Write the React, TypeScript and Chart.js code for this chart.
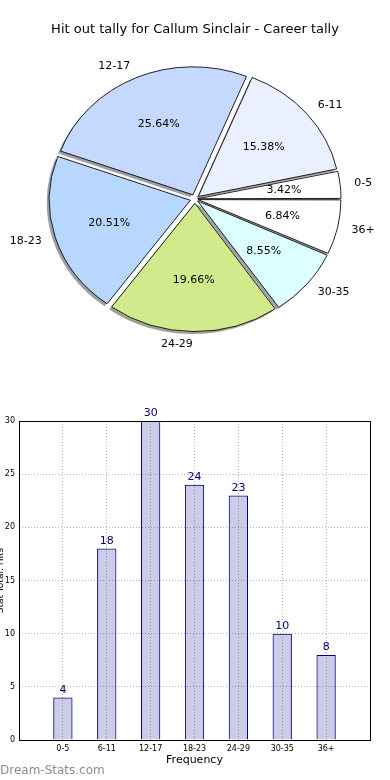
import React, { useEffect, useRef } from "react";
import { Chart, registerables } from "chart.js";

Chart.register(...registerables);

// ---- data ----
const TITLE = "Hit out tally for Callum Sinclair - Career tally";
const categories = ["0-5", "6-11", "12-17", "18-23", "24-29", "30-35", "36+"];
const hitOuts = [4, 18, 30, 24, 23, 10, 8];
const sliceColors = ["#ffffff", "#eaf0ff", "#c5d9ff", "#b8d7ff", "#d0ea8c", "#dcffff", "#ffffff"];
const yTicks = [0, 5, 10, 15, 20, 25, 30];
const X_TITLE = "Frequency";
const Y_TITLE = "Stat Total: Hits";
const WATERMARK = "Dream-Stats.com";

// ---- style constants ----
const FONT = "'DejaVu Sans', sans-serif";
const PIE_R = 141;
const SY = 0.908; // matplotlib non-equal axes -> ellipse
const EXPLODE = 5;
const NAVY = "#000080";

function hexToRgb(h: string) {
  const n = parseInt(h.slice(1), 16);
  return [(n >> 16) & 255, (n >> 8) & 255, n & 255];
}

function PieChart() {
  const ref = useRef<HTMLCanvasElement>(null);
  useEffect(() => {
    const total = hitOuts.reduce((a, b) => a + b, 0);
    // matplotlib draws counter-clockwise from 3 o'clock; Chart.js clockwise -> reverse
    const pieLabels = [...categories].reverse();
    const pieValues = [...hitOuts].reverse();
    const pieColors = [...sliceColors].reverse();

    const ellipsePlugin = {
      id: "ellipse",
      beforeDatasetsDraw(chart: any) {
        const ctx = chart.ctx;
        const arcs = chart.getDatasetMeta(0).data;
        if (!arcs.length) return;
        const cx = arcs[0].x, cy = arcs[0].y;
        ctx.save();
        ctx.translate(cx, cy);
        ctx.scale(1, SY);
        ctx.translate(-cx, -cy);
        // shadows (below all wedges)
        ctx.save();
        ctx.translate(-2.5, 2.5 / SY);
        arcs.forEach((arc: any, i: number) => {
          const mid = (arc.startAngle + arc.endAngle) / 2;
          const ox = arc.x + Math.cos(mid) * EXPLODE;
          const oy = arc.y + Math.sin(mid) * EXPLODE;
          const [r, g, b] = hexToRgb(pieColors[i]);
          ctx.beginPath();
          ctx.moveTo(ox, oy);
          ctx.arc(ox, oy, arc.outerRadius, arc.startAngle, arc.endAngle);
          ctx.closePath();
          ctx.fillStyle = `rgba(${Math.round(r * 0.3)},${Math.round(g * 0.3)},${Math.round(b * 0.3)},0.5)`;
          ctx.fill();
        });
        ctx.restore();
      },
      afterDatasetsDraw(chart: any) {
        chart.ctx.restore();
      },
      afterDraw(chart: any) {
        const ctx = chart.ctx;
        const arcs = chart.getDatasetMeta(0).data;
        ctx.save();
        ctx.fillStyle = "#000";
        ctx.font = `13px ${FONT}`;
        ctx.textAlign = "center";
        ctx.textBaseline = "middle";
        ctx.fillText(TITLE, 195, 30);
        ctx.font = `11px ${FONT}`;
        arcs.forEach((arc: any, i: number) => {
          const mid = (arc.startAngle + arc.endAngle) / 2;
          const c = Math.cos(mid), s = Math.sin(mid);
          const R = arc.outerRadius;
          const lr = 1.1 * R + EXPLODE;
          const lx = arc.x + lr * c;
          const ly = arc.y + lr * s * SY;
          ctx.textAlign = c >= 0 ? "left" : "right";
          ctx.fillText(pieLabels[i], lx, ly);
          const pr = 0.6 * R + EXPLODE;
          const px = arc.x + pr * c;
          const py = arc.y + pr * s * SY;
          ctx.textAlign = "center";
          ctx.fillText(((pieValues[i] / total) * 100).toFixed(2) + "%", px, py);
        });
        ctx.restore();
      },
    };

    const chart = new Chart(ref.current!, {
      type: "pie",
      data: {
        labels: pieLabels,
        datasets: [
          {
            data: pieValues,
            backgroundColor: pieColors,
            borderColor: "#000",
            borderWidth: 0.9,
            radius: PIE_R,
            clip: false,
            offset: (ctx: any) => {
              const circ = (ctx.raw / total) * Math.PI * 2;
              const fix = 1 - Math.sin(Math.min(Math.PI, circ));
              return (EXPLODE * 4) / (1 + fix);
            },
          } as any,
        ],
      },
      options: {
        animation: false,
        responsive: false,
        rotation: 90,
        layout: { padding: { bottom: 2 } },
        plugins: { legend: { display: false }, tooltip: { enabled: false }, title: { display: false } },
      },
      plugins: [ellipsePlugin],
    });
    return () => chart.destroy();
  }, []);
  return <canvas ref={ref} width={390} height={400} style={{ position: "absolute", left: 0, top: 0 }} />;
}

function BarChart() {
  const ref = useRef<HTMLCanvasElement>(null);
  useEffect(() => {
    const points = hitOuts.map((v, i) => ({ x: i, y: v }));
    const decor = {
      id: "decor",
      afterDatasetsDraw(chart: any) {
        const ctx = chart.ctx;
        const a = chart.chartArea;
        ctx.save();
        ctx.strokeStyle = "#000";
        ctx.lineWidth = 1;
        ctx.strokeRect(Math.round(a.left) + 0.5, Math.round(a.top) + 0.5, Math.round(a.right - a.left), Math.round(a.bottom - a.top));
        const meta = chart.getDatasetMeta(0);
        ctx.fillStyle = NAVY;
        ctx.font = `11px ${FONT}`;
        ctx.textAlign = "center";
        ctx.textBaseline = "bottom";
        meta.data.forEach((bar: any, i: number) => {
          ctx.fillText(String(hitOuts[i]), bar.x, bar.y - 2);
        });
        ctx.fillStyle = "#000";
        ctx.textBaseline = "middle";
        ctx.fillText(X_TITLE, (a.left + a.right) / 2, 360);
        ctx.save();
        ctx.translate(1, (a.top + a.bottom) / 2);
        ctx.rotate(-Math.PI / 2);
        ctx.font = `9px ${FONT}`;
        ctx.fillText(Y_TITLE, 0, 0);
        ctx.restore();
        ctx.fillStyle = "#8c8c8c";
        ctx.font = `12px ${FONT}`;
        ctx.textAlign = "left";
        ctx.fillText(WATERMARK, 0, 371);
        ctx.restore();
      },
    };
    const gridCommon = {
      color: "#b4b4b4",
      lineWidth: 1,
      drawTicks: false,
      offset: false,
    };
    const chart = new Chart(ref.current!, {
      type: "bar",
      data: {
        datasets: [
          {
            data: points,
            backgroundColor: "rgba(0,0,128,0.2)",
            borderColor: NAVY,
            borderWidth: 1,
            barPercentage: 0.44,
            categoryPercentage: 1,
          } as any,
        ],
      },
      options: {
        animation: false,
        responsive: false,
        layout: { padding: { top: 21, right: 20, left: 0, bottom: 0 } },
        plugins: { legend: { display: false }, tooltip: { enabled: false } },
        scales: {
          x: {
            type: "linear",
            min: -1,
            max: 7,
            offset: false,
            grid: { ...gridCommon } as any,
            border: { display: false, dash: [1, 2] },
            afterBuildTicks: (scale: any) => {
              scale.ticks = categories.map((_, i) => ({ value: i }));
            },
            afterFit: (scale: any) => {
              scale.height = 40;
            },
            ticks: {
              autoSkip: false,
              maxRotation: 0,
              padding: 4,
              color: "#000",
              font: { family: "'DejaVu Sans', sans-serif", size: 8 },
              callback: (v: any) => categories[v] ?? "",
            },
          },
          y: {
            min: 0,
            max: 30,
            grid: { ...gridCommon } as any,
            border: { display: false, dash: [1, 2] },
            afterBuildTicks: (scale: any) => {
              scale.ticks = yTicks.map((v) => ({ value: v }));
            },
            afterFit: (scale: any) => {
              scale.width = 19;
            },
            ticks: {
              padding: 4,
              color: "#000",
              font: { family: "'DejaVu Sans', sans-serif", size: 8 },
            },
          },
        },
      },
      plugins: [decor],
    });
    return () => chart.destroy();
  }, []);
  return <canvas ref={ref} width={390} height={380} style={{ position: "absolute", left: 0, top: 400 }} />;
}

export default function App() {
  return (
    <div style={{ position: "absolute", left: 0, top: 0, width: 390, height: 780, background: "#fff", overflow: "hidden" }}>
      <PieChart />
      <BarChart />
    </div>
  );
}
